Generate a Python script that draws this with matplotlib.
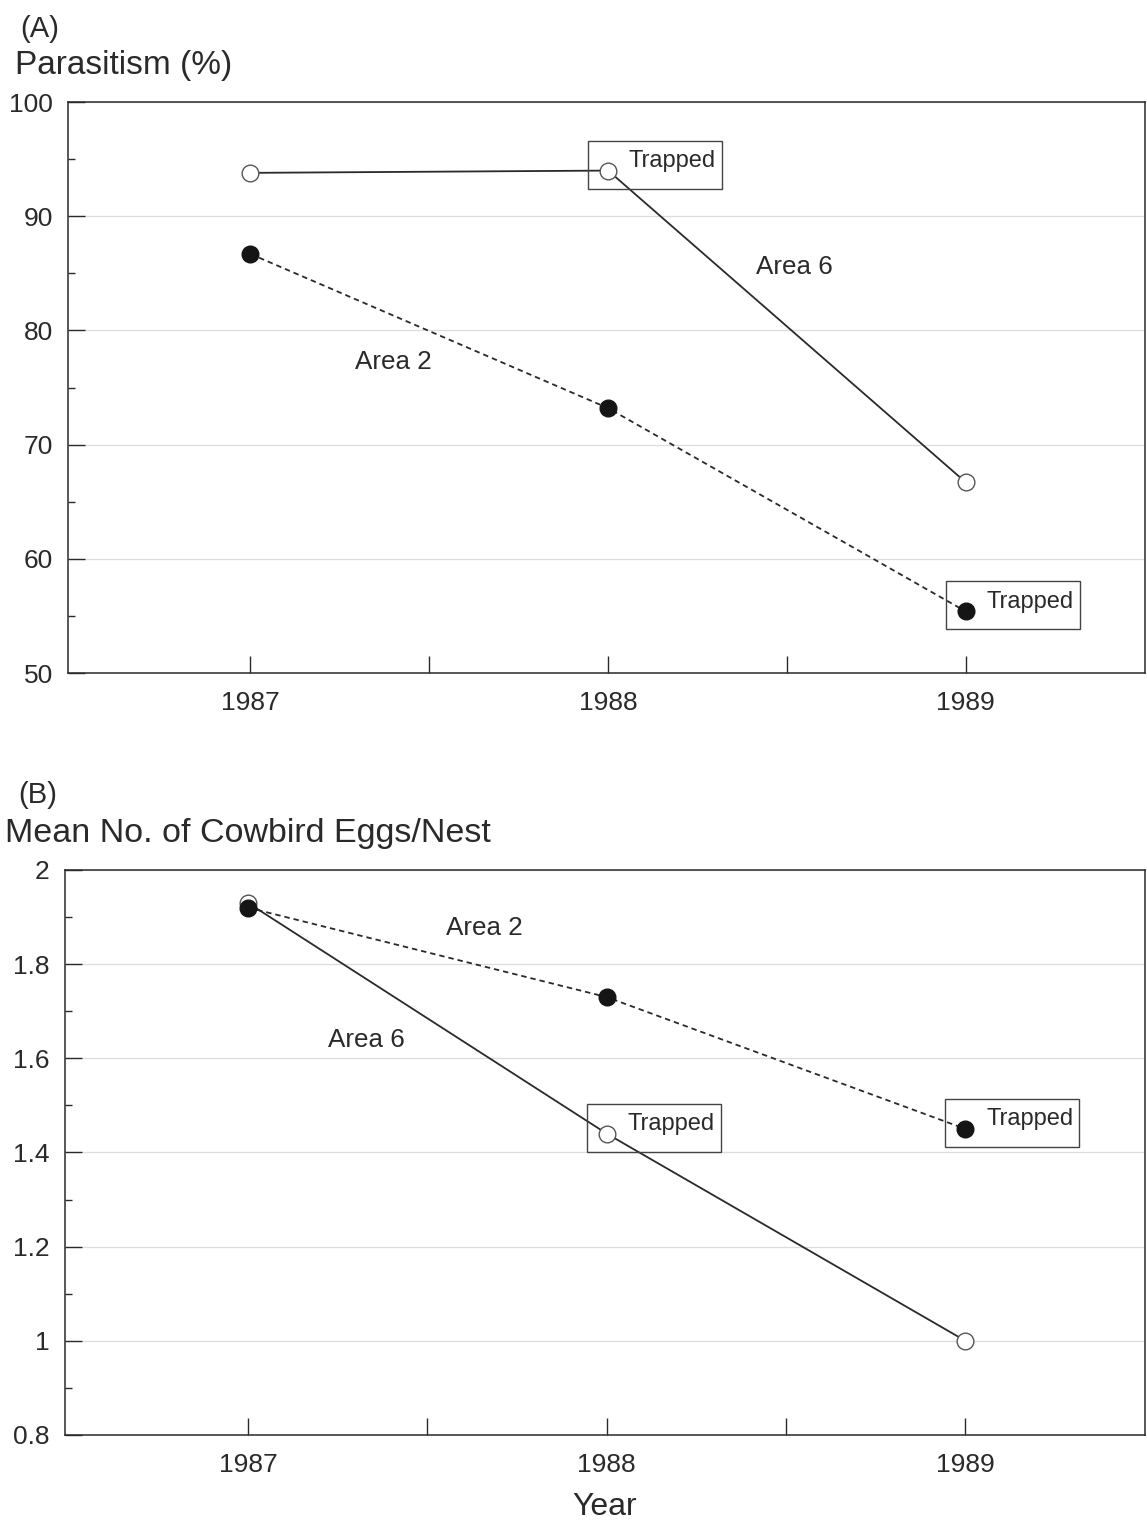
import matplotlib
matplotlib.use("Agg")
import matplotlib.pyplot as plt
import matplotlib.transforms as mtransforms
from matplotlib.patches import Rectangle
from matplotlib.ticker import FormatStrFormatter, MultipleLocator

plt.rcParams['font.family'] = ['Liberation Sans', 'DejaVu Sans']

# Data
years = [1987, 1988, 1989]
half_years = [1987.5, 1988.5]
paras_area6 = [93.8, 94.0, 66.7]
paras_area2 = [86.7, 73.2, 55.4]
eggs_area6 = [1.93, 1.44, 1.00]
eggs_area2 = [1.92, 1.73, 1.45]
trapped_a = [(1988, 94.0), (1989, 55.4)]
trapped_b = [(1988, 1.44), (1989, 1.45)]

ink = '#2a2a2a'


def style_axes(ax, ymin, ymax, ystep, fmt):
    ax.set_xlim(1986.49, 1989.5)
    ax.set_ylim(ymin, ymax)
    ax.set_xticks(years)
    ax.set_xticks(half_years, minor=True)
    ax.yaxis.set_major_locator(MultipleLocator(ystep))
    ax.yaxis.set_minor_locator(MultipleLocator(ystep / 2))
    ax.yaxis.set_major_formatter(FormatStrFormatter(fmt))
    ax.tick_params(axis='x', which='both', direction='in', length=12, width=1,
                   color=ink, labelsize=19, pad=13, labelcolor=ink)
    ax.tick_params(axis='y', which='major', direction='in', length=12, width=1,
                   color=ink, labelsize=19, pad=11, labelcolor=ink)
    ax.tick_params(axis='y', which='minor', direction='in', length=5, width=1, color=ink)
    ax.grid(axis='y', which='major', color='#dcdcdc', lw=0.9)
    ax.set_axisbelow(True)
    for s in ax.spines.values():
        s.set_color(ink)
        s.set_linewidth(1.1)


def plot_series(ax, area6, area2):
    ax.plot(years, area6, '-', color=ink, lw=1.3, marker='o', ms=12,
            mfc='white', mec='#555555', mew=1.0, zorder=3)
    ax.plot(years, area2, color=ink, lw=1.3, ls=(0, (3, 2.2)), marker='o', ms=12,
            mfc='#151515', mec='#151515', zorder=3)


def trapped_box(ax, x, y):
    # box in pixel offsets around the marker
    tr = mtransforms.IdentityTransform() + mtransforms.ScaledTranslation(x, y, ax.transData)
    ax.add_patch(Rectangle((-20, -18), 134, 48, transform=tr, fill=False,
                           ec='#444444', lw=1.0, clip_on=False, zorder=4))
    ax.annotate('Trapped', (x, y), xytext=(15, 7), textcoords='offset points',
                fontsize=17, color=ink, va='center', ha='left', zorder=5)


fig = plt.figure(figsize=(11.47, 15.23), dpi=100)

# Panel A
ax1 = fig.add_axes([0.0593, 0.558, 0.9387, 0.375])
style_axes(ax1, 50, 100, 10, '%g')
plot_series(ax1, paras_area6, paras_area2)
for x, y in trapped_a:
    trapped_box(ax1, x, y)
ax1.text(1988.52, 85.6, 'Area 6', fontsize=18.7, color=ink, ha='center', va='center')
ax1.text(1987.40, 77.2, 'Area 2', fontsize=18.7, color=ink, ha='center', va='center')

# Panel B
ax2 = fig.add_axes([0.0567, 0.0578, 0.9413, 0.371])
style_axes(ax2, 0.8, 2.0, 0.2, '%g')
plot_series(ax2, eggs_area6, eggs_area2)
for x, y in trapped_b:
    trapped_box(ax2, x, y)
ax2.text(1987.66, 1.877, 'Area 2', fontsize=18.7, color=ink, ha='center', va='center')
ax2.text(1987.33, 1.639, 'Area 6', fontsize=18.7, color=ink, ha='center', va='center')

# Titles
fig.text(20 / 1147, 1 - 37 / 1523, '(A)', fontsize=21, color=ink, va='baseline')
fig.text(15 / 1147, 1 - 74 / 1523, 'Parasitism (%)', fontsize=24, color=ink, va='baseline')
fig.text(18 / 1147, 1 - 803 / 1523, '(B)', fontsize=21, color=ink, va='baseline')
fig.text(5 / 1147, 1 - 842 / 1523, 'Mean No. of Cowbird Eggs/Nest', fontsize=24.5, color=ink, va='baseline')
fig.text(605 / 1147, 1 - 1515 / 1523, 'Year', fontsize=23, color=ink, ha='center', va='baseline')

fig.savefig('out.png', dpi=100)
